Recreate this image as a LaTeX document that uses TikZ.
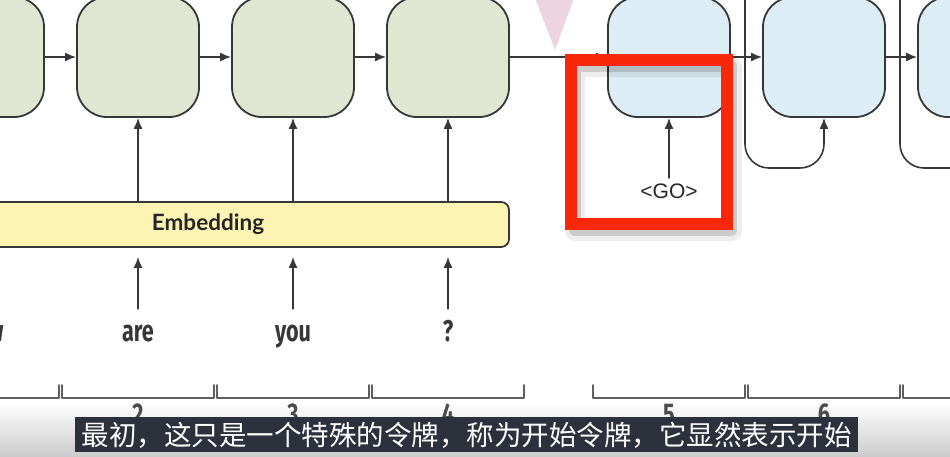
\documentclass[tikz,border=0pt]{standalone}
\usepackage{fontspec}
\setmainfont{Lato}
\newfontfamily\wordfont[FakeStretch=0.72]{Fira Sans}
\newfontfamily\gofont{Liberation Sans}
\newfontfamily\cjk{Noto Sans CJK SC}
\usetikzlibrary{positioning, arrows.meta}
\definecolor{encgreen}{RGB}{223,231,211}
\definecolor{decblue}{RGB}{220,237,245}
\definecolor{embyellow}{RGB}{253,243,178}
\definecolor{linegray}{RGB}{55,55,55}
\definecolor{markred}{RGB}{250,40,10}
\definecolor{tripink}{RGB}{236,212,224}
\definecolor{subbg}{RGB}{44,49,60}
\tikzset{
  cell/.style={draw=linegray, line width=1.8pt, rounded corners=30pt, minimum width=122pt, minimum height=120pt},
  enc/.style={cell, fill=encgreen},
  dec/.style={cell, fill=decblue},
  conn/.style={draw=linegray, line width=1.6pt, -{Latex[length=11pt, width=9pt]}},
  word/.style={font=\wordfont\bfseries\fontsize{30}{30}\selectfont, text=linegray, inner sep=0pt,
    text height=20pt, text depth=6pt, anchor=base},
  bracket/.style={draw=linegray!80, line width=1.6pt}
}
\begin{document}
\begin{tikzpicture}[x=1pt, y=-1pt, line join=round, line cap=round]
\useasboundingbox (0,0) rectangle (950,456);
\clip (0,0) rectangle (950,456);
\fill[white] (0,0) rectangle (950,456);
\shade[top color=white, bottom color=black!20] (0,402) rectangle (950,456);
\def\ycell{57}\def\yword{341}\def\ybr{398}
\fill[tripink] (535,-2) -- (574,-2) -- (555,50) -- cycle;
\foreach \i/\x in {1/-17,2/138,3/293,4/448} \node[enc] (enc\i) at (\x,\ycell) {};
\foreach \i/\x in {5/669,6/824,7/979} \node[dec] (dec\i) at (\x,\ycell) {};
\draw[conn] (enc1) -- (enc2);
\draw[conn] (enc2) -- (enc3);
\draw[conn] (enc3) -- (enc4);
\draw[conn] (enc4) -- (dec5);
\draw[conn] (dec5) -- (dec6);
\draw[conn] (dec6) -- (dec7);
\node[draw=linegray, line width=1.8pt, fill=embyellow, rounded corners=8pt, minimum width=602pt, minimum height=45pt,
  font=\bfseries\fontsize{22.5}{22.5}\selectfont, text=black!85] (emb) at (208,224.5) {Embedding};
\foreach \i/\x/\w in {1/-17/how,2/138/are,3/293/you,4/448/?} {
  \node[word] (w\i) at (\x,\yword) {\w};
  \draw[conn, shorten <=12pt, shorten >=9pt] (w\i.north) -- (w\i.north |- emb.south);
  \draw[conn] (enc\i |- emb.north) -- (enc\i.south);
}
\node[font=\gofont\fontsize{21}{21}\selectfont, text=black!85] (go) at (669,191) {<GO>};
\draw[conn, shorten <=2pt] (go) -- (dec5);
\coordinate (fb6) at (745,-5);
\coordinate (fb7) at (900,-5);
\draw[conn, rounded corners=24pt] (fb6) -- ++(0,173) -| (dec6.south);
\draw[conn, rounded corners=24pt] (fb7) -- ++(0,173) -| (dec7.south);
\draw[black, opacity=.07, line width=20pt] (575,67) rectangle (732,231);
\draw[black, opacity=.14, line width=12pt] (575,66) rectangle (731,230);
\draw[markred, line width=12pt, line cap=butt, line join=miter] (571,60) rectangle (727,224);
\foreach \n/\c in {1/-17,2/138,3/293,4/448,5/669,6/824,7/979} {
  \draw[bracket] (\c-76,385) -- (\c-76,\ybr) -- (\c+76,\ybr) -- (\c+76,385);
  \node[word, text=linegray!90] (n\n) at (\c,424) {\n};
}
\fill[subbg] (75,417) rectangle (858,452);
\node[font=\cjk\fontsize{27.5}{27.5}\selectfont, text=white, inner sep=0pt] (sub) at (466.5,435) {最初，这只是一个特殊的令牌，称为开始令牌，它显然表示开始};
\end{tikzpicture}
\end{document}
